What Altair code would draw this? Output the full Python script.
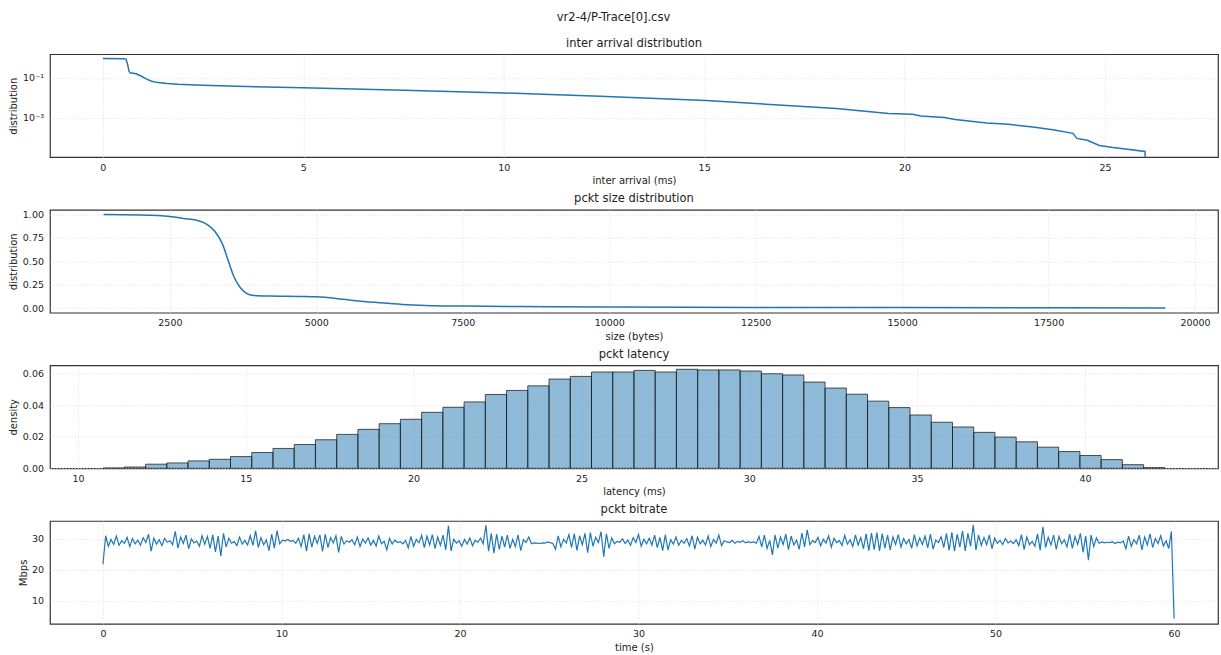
import altair as alt
import numpy as np
import pandas as pd

FONT = "DejaVu Sans"
BLUE = "#1f77b4"
TEXT = "#222222"
W = 1169
H = 103

# ---- inter arrival: complementary distribution (log y) ----
ia_ms = [0.0, 0.54, 0.58, 0.62, 0.65, 0.68, 0.83, 0.95, 1.08, 1.2, 1.33, 1.6, 1.87,
         2.5, 3.35, 5.0, 7.5, 10.0, 12.4, 15.05, 18.3, 19.6, 20.2, 20.4, 21.0, 21.26,
         22.05, 22.6, 23.2, 23.7, 24.2, 24.3, 24.56, 24.86, 25.2, 26.0, 26.0]
ia_dist = [0.93, 0.92, 0.85, 0.45, 0.22, 0.18, 0.16, 0.125, 0.089, 0.07, 0.060, 0.052,
           0.048, 0.043, 0.038, 0.032, 0.024, 0.0178, 0.012, 0.0074, 0.0030, 0.00166,
           0.00151, 0.00126, 0.00105, 0.00083, 0.00056, 0.00048, 0.00035, 0.00026,
           0.00017, 0.000095, 0.000076, 0.000042, 0.000033, 0.000021, 1e-8]

# ---- packet size: complementary distribution ----
size_bytes = [1368, 2000, 2500, 2733, 3000, 3133, 3267, 3400, 3500, 3600, 3700, 3800,
              3933, 4200, 4733, 5000, 5333, 5667, 6067, 6467, 6867, 7500, 9000, 10120,
              12500, 15000, 17500, 19494]
size_dist = [1.0, 0.995, 0.979, 0.957, 0.93, 0.894, 0.82, 0.68, 0.5, 0.326, 0.22, 0.16,
             0.135, 0.128, 0.124, 0.12, 0.103, 0.078, 0.057, 0.039, 0.028, 0.021, 0.014,
             0.011, 0.007, 0.005, 0.003, 0.001]

# ---- latency histogram (50 bins) ----
lat_lo, lat_hi = 10.75, 42.38
lat_density = [0.0002, 0.0008, 0.0026, 0.0034, 0.0047, 0.0057, 0.0074, 0.0100, 0.0126,
               0.0151, 0.0181, 0.0215, 0.0247, 0.0283, 0.0311, 0.0355, 0.0387, 0.0421,
               0.0468, 0.0494, 0.0523, 0.0566, 0.0583, 0.0611, 0.0611, 0.0621, 0.0611,
               0.0628, 0.0624, 0.0624, 0.0617, 0.0600, 0.0592, 0.0547, 0.0509, 0.0470,
               0.0426, 0.0385, 0.0338, 0.0292, 0.0262, 0.0228, 0.0198, 0.0168, 0.0134,
               0.0106, 0.0081, 0.0055, 0.0023, 0.0004]

# ---- bitrate over time (Mbps), 0 s .. 60 s ----
bitrate = [
    21.8, 31.0, 27.6, 29.8, 28.2, 30.9, 27.9, 29.4, 28.6, 30.5, 27.5, 30.1, 28.4, 29.6, 27.9, 30.4, 28.8, 31.5, 26.0, 30.2,
    28.3, 29.7, 27.8, 30.2, 28.9, 29.4, 28.1, 32.4, 27.0, 30.6, 28.5, 31.2, 26.8, 30.0, 28.7, 29.3, 27.6, 31.0, 28.2, 30.8,
    26.9, 31.3, 25.8, 30.9, 24.5, 31.8, 27.4, 30.2, 28.6, 29.1, 27.8, 30.6, 28.3, 29.5, 28.0, 31.0, 27.9, 32.6, 27.2, 30.4,
    28.1, 29.7, 26.2, 31.5, 27.0, 32.7, 28.4, 29.6, 29.3, 29.8, 29.2, 29.5, 28.6, 30.2, 27.5, 31.4, 26.0, 31.6, 27.3, 30.8,
    28.5, 31.3, 25.9, 31.5, 27.2, 30.4, 28.7, 31.0, 25.6, 30.8, 28.3, 29.4, 28.9, 29.7, 28.1, 30.6, 27.5, 29.9, 28.6, 30.3,
    28.0, 29.5, 27.7, 30.9, 28.4, 29.2, 26.5, 30.2, 28.3, 29.6, 28.8, 29.1, 28.4, 29.5, 27.1, 30.8, 27.6, 29.8, 28.7, 31.1,
    27.2, 30.9, 28.0, 31.4, 26.8, 30.6, 27.9, 31.2, 26.4, 34.2, 26.1, 29.9, 28.6, 29.4, 27.6, 29.8, 28.3, 30.3, 27.8, 29.5,
    28.9, 30.2, 28.4, 34.4, 26.0, 31.8, 25.4, 31.5, 26.6, 30.9, 27.3, 31.2, 26.9, 29.8, 27.5, 31.3, 26.2, 29.7, 28.8, 30.6,
    28.4, 28.7, 28.6, 28.5, 28.7, 28.6, 29.0, 28.8, 28.5, 26.6, 31.0, 27.4, 29.9, 28.7, 31.4, 27.2, 31.7, 26.3, 31.0, 28.1,
    31.8, 25.5, 32.0, 27.6, 30.5, 28.8, 32.3, 24.2, 31.6, 26.9, 30.3, 28.4, 29.2, 28.9, 30.0, 28.5, 29.6, 27.9, 30.4, 28.8,
    31.4, 27.6, 29.9, 28.4, 30.2, 28.0, 31.2, 27.2, 30.5, 26.2, 31.3, 26.4, 29.7, 28.3, 30.6, 27.9, 29.5, 28.6, 30.1, 27.7,
    31.0, 26.7, 30.5, 28.4, 29.6, 28.0, 30.9, 27.5, 29.8, 28.6, 31.2, 27.8, 29.4, 29.0, 28.8, 29.5, 28.6, 29.2, 28.9, 29.4,
    28.7, 29.1, 28.8, 29.0, 28.6, 30.8, 27.4, 31.2, 26.9, 29.5, 24.8, 31.3, 27.0, 30.6, 28.2, 31.5, 26.5, 30.9, 28.0, 29.6,
    26.6, 31.9, 27.4, 32.9, 28.1, 29.4, 28.8, 30.5, 27.8, 29.9, 28.6, 31.0, 27.3, 30.2, 28.8, 29.4, 27.9, 31.1, 28.3, 29.7,
    27.5, 31.3, 28.0, 30.4, 26.8, 31.6, 26.2, 31.9, 26.5, 32.0, 26.1, 31.7, 27.0, 31.2, 26.4, 30.6, 28.2, 31.4, 27.3, 30.1,
    28.4, 29.8, 26.9, 31.4, 27.7, 30.3, 28.2, 30.9, 27.1, 31.5, 26.7, 29.6, 28.8, 30.7, 27.2, 31.8, 26.3, 32.1, 26.0, 31.5,
    27.3, 32.5, 26.1, 31.8, 27.6, 34.5, 26.4, 31.2, 27.9, 30.4, 28.1, 31.3, 26.8, 30.2, 28.6, 29.5, 28.2, 30.1, 28.7, 29.3,
    28.5, 29.7, 27.8, 31.4, 26.5, 30.6, 28.1, 29.2, 27.6, 31.6, 26.3, 33.9, 27.2, 30.5, 28.0, 31.2, 26.6, 30.8, 28.4, 29.7,
    27.4, 31.5, 26.9, 30.7, 28.2, 31.8, 25.6, 30.9, 23.1, 31.2, 27.5, 30.3, 28.6, 29.0, 28.7, 28.9, 28.8, 29.1, 28.5, 28.9,
    28.7, 29.3, 26.8, 30.9, 27.6, 29.8, 28.4, 31.2, 26.4, 30.6, 28.0, 31.6, 27.2, 30.1, 28.5, 31.0, 27.7, 29.4, 26.9, 32.4,
    4.2,
]
duration_s = 60.0

# ---- tables ----
ia_df = pd.DataFrame({"x": ia_ms, "y": ia_dist})
size_df = pd.DataFrame({"x": size_bytes, "y": size_dist})
edges = np.linspace(lat_lo, lat_hi, len(lat_density) + 1)
lat_df = pd.DataFrame({"lo": edges[:-1], "hi": edges[1:], "y": lat_density,
                       "base": 0.0})
br_df = pd.DataFrame({"x": np.linspace(0, duration_s, len(bitrate)), "y": bitrate})


def title(text):
    return alt.TitleParams(text, font=FONT, fontSize=11.5, fontWeight="normal",
                           color=TEXT, anchor="middle", offset=5)


def yaxis(label, tx, **kw):
    return alt.Axis(title=label, titleX=tx, titleY=H / 2, titleAngle=270,
                    titleAlign="center", titleBaseline="middle", **kw)


p1 = alt.Chart(ia_df, title=title("inter arrival distribution")).mark_line(
    color=BLUE, strokeWidth=1.5, clip=True
).encode(
    x=alt.X("x:Q", title="inter arrival (ms)",
            scale=alt.Scale(domain=[-1.32, 27.82], nice=False, zero=False),
            axis=alt.Axis(values=[0, 5, 10, 15, 20, 25], format="d")),
    y=alt.Y("y:Q", scale=alt.Scale(type="log", domain=[1.1e-5, 1.53], nice=False),
            axis=yaxis("distribution", -36, values=[0.1, 0.001],
                       labelExpr="datum.value > 0.01 ? '10⁻¹' : '10⁻³'")),
    order="x:Q",
).properties(width=W, height=H)

p2 = alt.Chart(size_df, title=title("pckt size distribution")).mark_line(
    color=BLUE, strokeWidth=1.5, interpolate="monotone", clip=True
).encode(
    x=alt.X("x:Q", title="size (bytes)",
            scale=alt.Scale(domain=[453, 20392], nice=False, zero=False),
            axis=alt.Axis(values=list(range(2500, 20001, 2500)), format="d")),
    y=alt.Y("y:Q", scale=alt.Scale(domain=[-0.05, 1.05], nice=False, zero=False),
            axis=yaxis("distribution", -36, values=[0, 0.25, 0.5, 0.75, 1.0],
                       format=".2f")),
).properties(width=W, height=H)

p3 = alt.Chart(lat_df, title=title("pckt latency")).mark_rect(
    fill=BLUE, fillOpacity=0.5, stroke="#1a1a1a", strokeOpacity=0.75,
    strokeWidth=1, clip=True
).encode(
    x=alt.X("lo:Q", title="latency (ms)",
            scale=alt.Scale(domain=[9.167, 43.964], nice=False, zero=False),
            axis=alt.Axis(values=[10, 15, 20, 25, 30, 35, 40], format="d")),
    x2="hi:Q",
    y=alt.Y("y:Q", scale=alt.Scale(domain=[0, 0.0653], nice=False),
            axis=yaxis("density", -36, values=[0, 0.02, 0.04, 0.06], format=".2f")),
    y2="base:Q",
).properties(width=W, height=H)

p4 = alt.Chart(br_df, title=title("pckt bitrate")).mark_line(
    color=BLUE, strokeWidth=1.2, clip=True
).encode(
    x=alt.X("x:Q", title="time (s)",
            scale=alt.Scale(domain=[-2.97, 62.46], nice=False, zero=False),
            axis=alt.Axis(values=[0, 10, 20, 30, 40, 50, 60], format="d")),
    y=alt.Y("y:Q", scale=alt.Scale(domain=[2.48, 35.8], nice=False, zero=False),
            axis=yaxis("Mbps", -26, values=[10, 20, 30], format="d")),
).properties(width=W, height=H)

chart = alt.vconcat(p1, p2, p3, p4, spacing=52.7, bounds="flush").properties(
    title=alt.TitleParams("vr2-4/P-Trace[0].csv", font=FONT, fontSize=11.5,
                          fontWeight="normal", color=TEXT, anchor="middle",
                          offset=14),
    padding={"left": 8, "right": 2, "top": 11, "bottom": 2},
    background="white",
).configure_axis(
    labelFont=FONT, labelFontSize=9.5, labelColor=TEXT,
    titleFont=FONT, titleFontSize=10, titleFontWeight="normal", titleColor=TEXT,
    domain=False, ticks=False, grid=True,
    gridColor="#e2e2e2", gridDash=[1.5, 1.5], gridWidth=0.8,
).configure_axisX(
    labelPadding=5, titlePadding=4,
).configure_axisY(
    labelPadding=6.5,
).configure_view(
    stroke="#333333", strokeWidth=1.2,
)

chart.save("out.html", embed_options={"renderer": "svg", "actions": False})
